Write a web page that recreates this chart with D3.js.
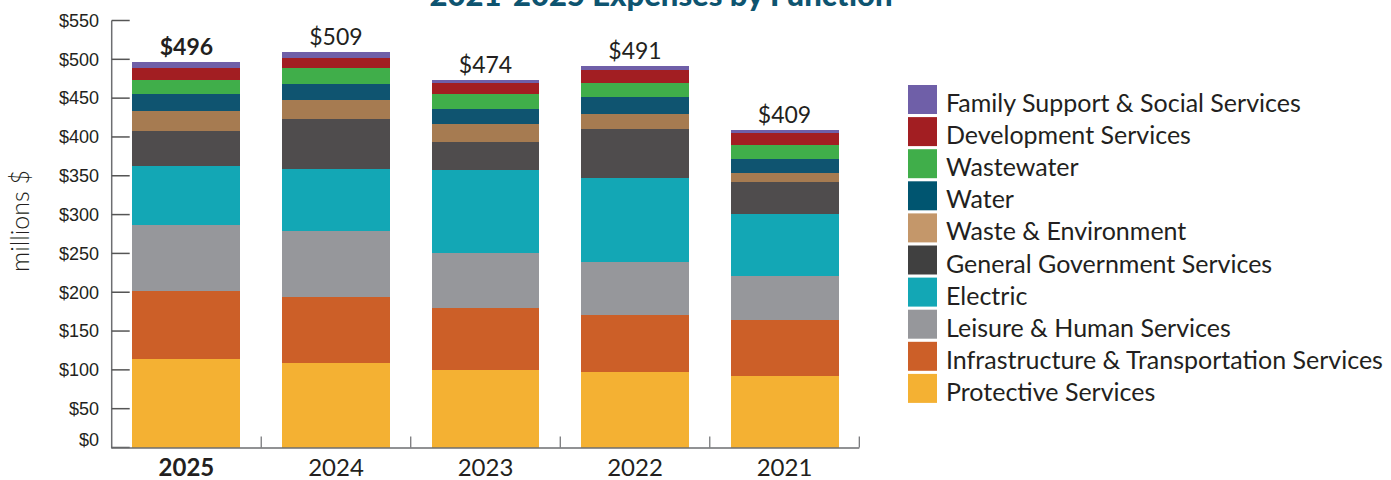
<!DOCTYPE html>
<html>
<head>
<meta charset="utf-8">
<script src="https://cdn.jsdelivr.net/npm/d3@7"></script>
<style>
  body { margin: 0; background: #fff; }
  .tick-label { font-family: "Liberation Sans", Arial, sans-serif; font-size: 18px; fill: #231f20; }
  .av { font-family: Lato, "Open Sans", sans-serif; fill: #231f20; }
</style>
</head>
<body>
<div id="chart"></div>
<script>
// ---------------- data ----------------
var years = ["2025", "2024", "2023", "2022", "2021"];
var totals = [496, 509, 474, 491, 409];

// series listed bottom to top
var series = [
    "Protective Services",
    "Infrastructure & Transportation Services",
    "Leisure & Human Services",
    "Electric",
    "General Government Services",
    "Waste & Environment",
    "Water",
    "Wastewater",
    "Development Services",
    "Family Support & Social Services"
];

// values per series, same order as years (millions $)
var protective   = [114, 109, 100, 97, 92];
var infra        = [88, 85, 80, 74, 72];
var leisure      = [85, 85, 70, 68, 57];
var electric     = [76, 80, 108, 108, 80];
var general      = [45, 64, 36, 63, 41];
var waste        = [25, 25, 23, 20, 12];
var water        = [22, 20, 19, 21, 18];
var wastewater   = [19, 21, 19, 18, 18];
var development  = [15, 13, 15, 17, 15];
var family       = [7, 7, 4, 5, 4];

var yTicks = [0, 50, 100, 150, 200, 250, 300, 350, 400, 450, 500, 550];

var colors = ["#F4B133", "#CC5F28", "#96979B", "#13A7B5", "#4F4C4D",
              "#A67B51", "#0F5470", "#40AE4A", "#A21E22", "#6F5FA8"];
var legendColors = ["#F4B133", "#CC5F28", "#96979B", "#13A7B5", "#404040",
                    "#C4976A", "#005570", "#40AE4A", "#A21E22", "#6F5FA8"];

// ---------------- layout ----------------
var W = 1391, H = 480;
var x0 = 111.7, x1 = 859.3,
    yBase = 447.5, yTop = 20.5;

var svg = d3.select("#chart").append("svg")
    .attr("width", W)
    .attr("height", H);

var valueArrays = [protective, infra, leisure, electric, general, waste, water, wastewater, development, family];
var table = years.map(function(yr, i) {
    var row = {year: yr};
    series.forEach(function(s, k) { row[s] = valueArrays[k][i]; });
    return row;
});

var stack = d3.stack().keys(series);
var stacked = stack(table);

// ---------------- scales ----------------
var scale_x = d3.scaleBand()
    .domain(years)
    .range([x0, x1])
    .paddingInner(0.278)
    .paddingOuter(0.139);

var scale_y = d3.scaleLinear()
    .domain([0, 550])
    .range([yBase, yTop]);

// ---------------- title ----------------
svg.append("text")
    .attr("class", "av")
    .attr("x", 661)
    .attr("y", 6)
    .attr("text-anchor", "middle")
    .style("font-size", "31px")
    .style("font-weight", "900")
    .style("fill", "#0E5470")
    .text("2021-2025 Expenses by Function");

// ---------------- bars ----------------
svg.selectAll("g.layer")
    .data(stacked)
    .enter()
    .append("g")
      .attr("class", "layer")
      .attr("fill", function(d, i) { return colors[i]; })
    .selectAll("rect")
    .data(function(d) { return d; })
    .enter()
    .append("rect")
      .attr("x", function(d) { return scale_x(d.data.year); })
      .attr("width", scale_x.bandwidth())
      .attr("y", function(d) { return scale_y(d[1]); })
      .attr("height", function(d) { return scale_y(d[0]) - scale_y(d[1]); })
      .attr("shape-rendering", "crispEdges");

// ---------------- total labels ----------------
svg.selectAll("text.total")
    .data(years)
    .enter()
    .append("text")
      .attr("class", "av total")
      .attr("x", function(d) { return scale_x(d) + scale_x.bandwidth() / 2; })
      .attr("y", function(d, i) { return scale_y(totals[i]) - 7; })
      .attr("text-anchor", "middle")
      .style("font-size", "23px")
      .style("font-weight", function(d, i) { return i == 0 ? "700" : "400"; })
      .text(function(d, i) { return "$" + totals[i]; });

// ---------------- y axis ----------------
var axis_color = "#6d6e71";
svg.append("line")
    .attr("x1", x0).attr("x2", x0)
    .attr("y1", scale_y(550)).attr("y2", yBase + 1)
    .attr("stroke", axis_color).attr("stroke-width", 1.5);

svg.selectAll("line.ytick")
    .data(yTicks)
    .enter()
    .append("line")
      .attr("x1", x0).attr("x2", x0 + 18)
      .attr("y1", function(d) { return scale_y(d); })
      .attr("y2", function(d) { return scale_y(d); })
      .attr("stroke", "#555").attr("stroke-width", 1.5);

svg.selectAll("text.ylab")
    .data(yTicks)
    .enter()
    .append("text")
      .attr("class", "tick-label")
      .attr("x", 99)
      .attr("y", function(d) { return scale_y(d) - (d == 0 ? 8 : 0); })
      .attr("dy", "0.35em")
      .attr("text-anchor", "end")
      .text(function(d) { return "$" + d; });

svg.append("text")
    .attr("class", "av")
    .attr("transform", "translate(29,221) rotate(-90)")
    .attr("text-anchor", "middle")
    .style("font-size", "25px")
    .style("font-weight", "300")
    .text("millions $");

// ---------------- x axis ----------------
svg.append("line")
    .attr("x1", x0).attr("x2", x1)
    .attr("y1", yBase + 0.5).attr("y2", yBase + 0.5)
    .attr("stroke", axis_color).attr("stroke-width", 1.5);

svg.selectAll("line.xtick")
    .data(years)
    .enter()
    .append("line")
      .attr("x1", function(d) { return scale_x(d) + scale_x.bandwidth() + scale_x.step() * 0.139; })
      .attr("x2", function(d) { return scale_x(d) + scale_x.bandwidth() + scale_x.step() * 0.139; })
      .attr("y1", yBase).attr("y2", yBase - 11)
      .attr("stroke", axis_color).attr("stroke-width", 1.2);

svg.selectAll("text.xlab")
    .data(years)
    .enter()
    .append("text")
      .attr("class", "av")
      .attr("x", function(d) { return scale_x(d) + scale_x.bandwidth() / 2; })
      .attr("y", 476)
      .attr("text-anchor", "middle")
      .style("font-size", "24px")
      .style("font-weight", function(d, i) { return i == 0 ? "700" : "400"; })
      .text(function(d) { return d; });

// ---------------- legend ----------------
var legendOrder = series.slice().reverse();
var legend = svg.selectAll("g.legend")
    .data(legendOrder)
    .enter()
    .append("g")
      .attr("class", "legend")
      .attr("transform", function(d, i) { return "translate(908," + (85 + i * 32.1) + ")"; });

legend.append("rect")
    .attr("width", 29)
    .attr("height", 29)
    .attr("fill", function(d) { return legendColors[series.indexOf(d)]; });

legend.append("text")
    .attr("class", "av")
    .attr("x", 38)
    .attr("y", 27)
    .style("font-size", "25px")
    .text(function(d) { return d; });
</script>
</body>
</html>
